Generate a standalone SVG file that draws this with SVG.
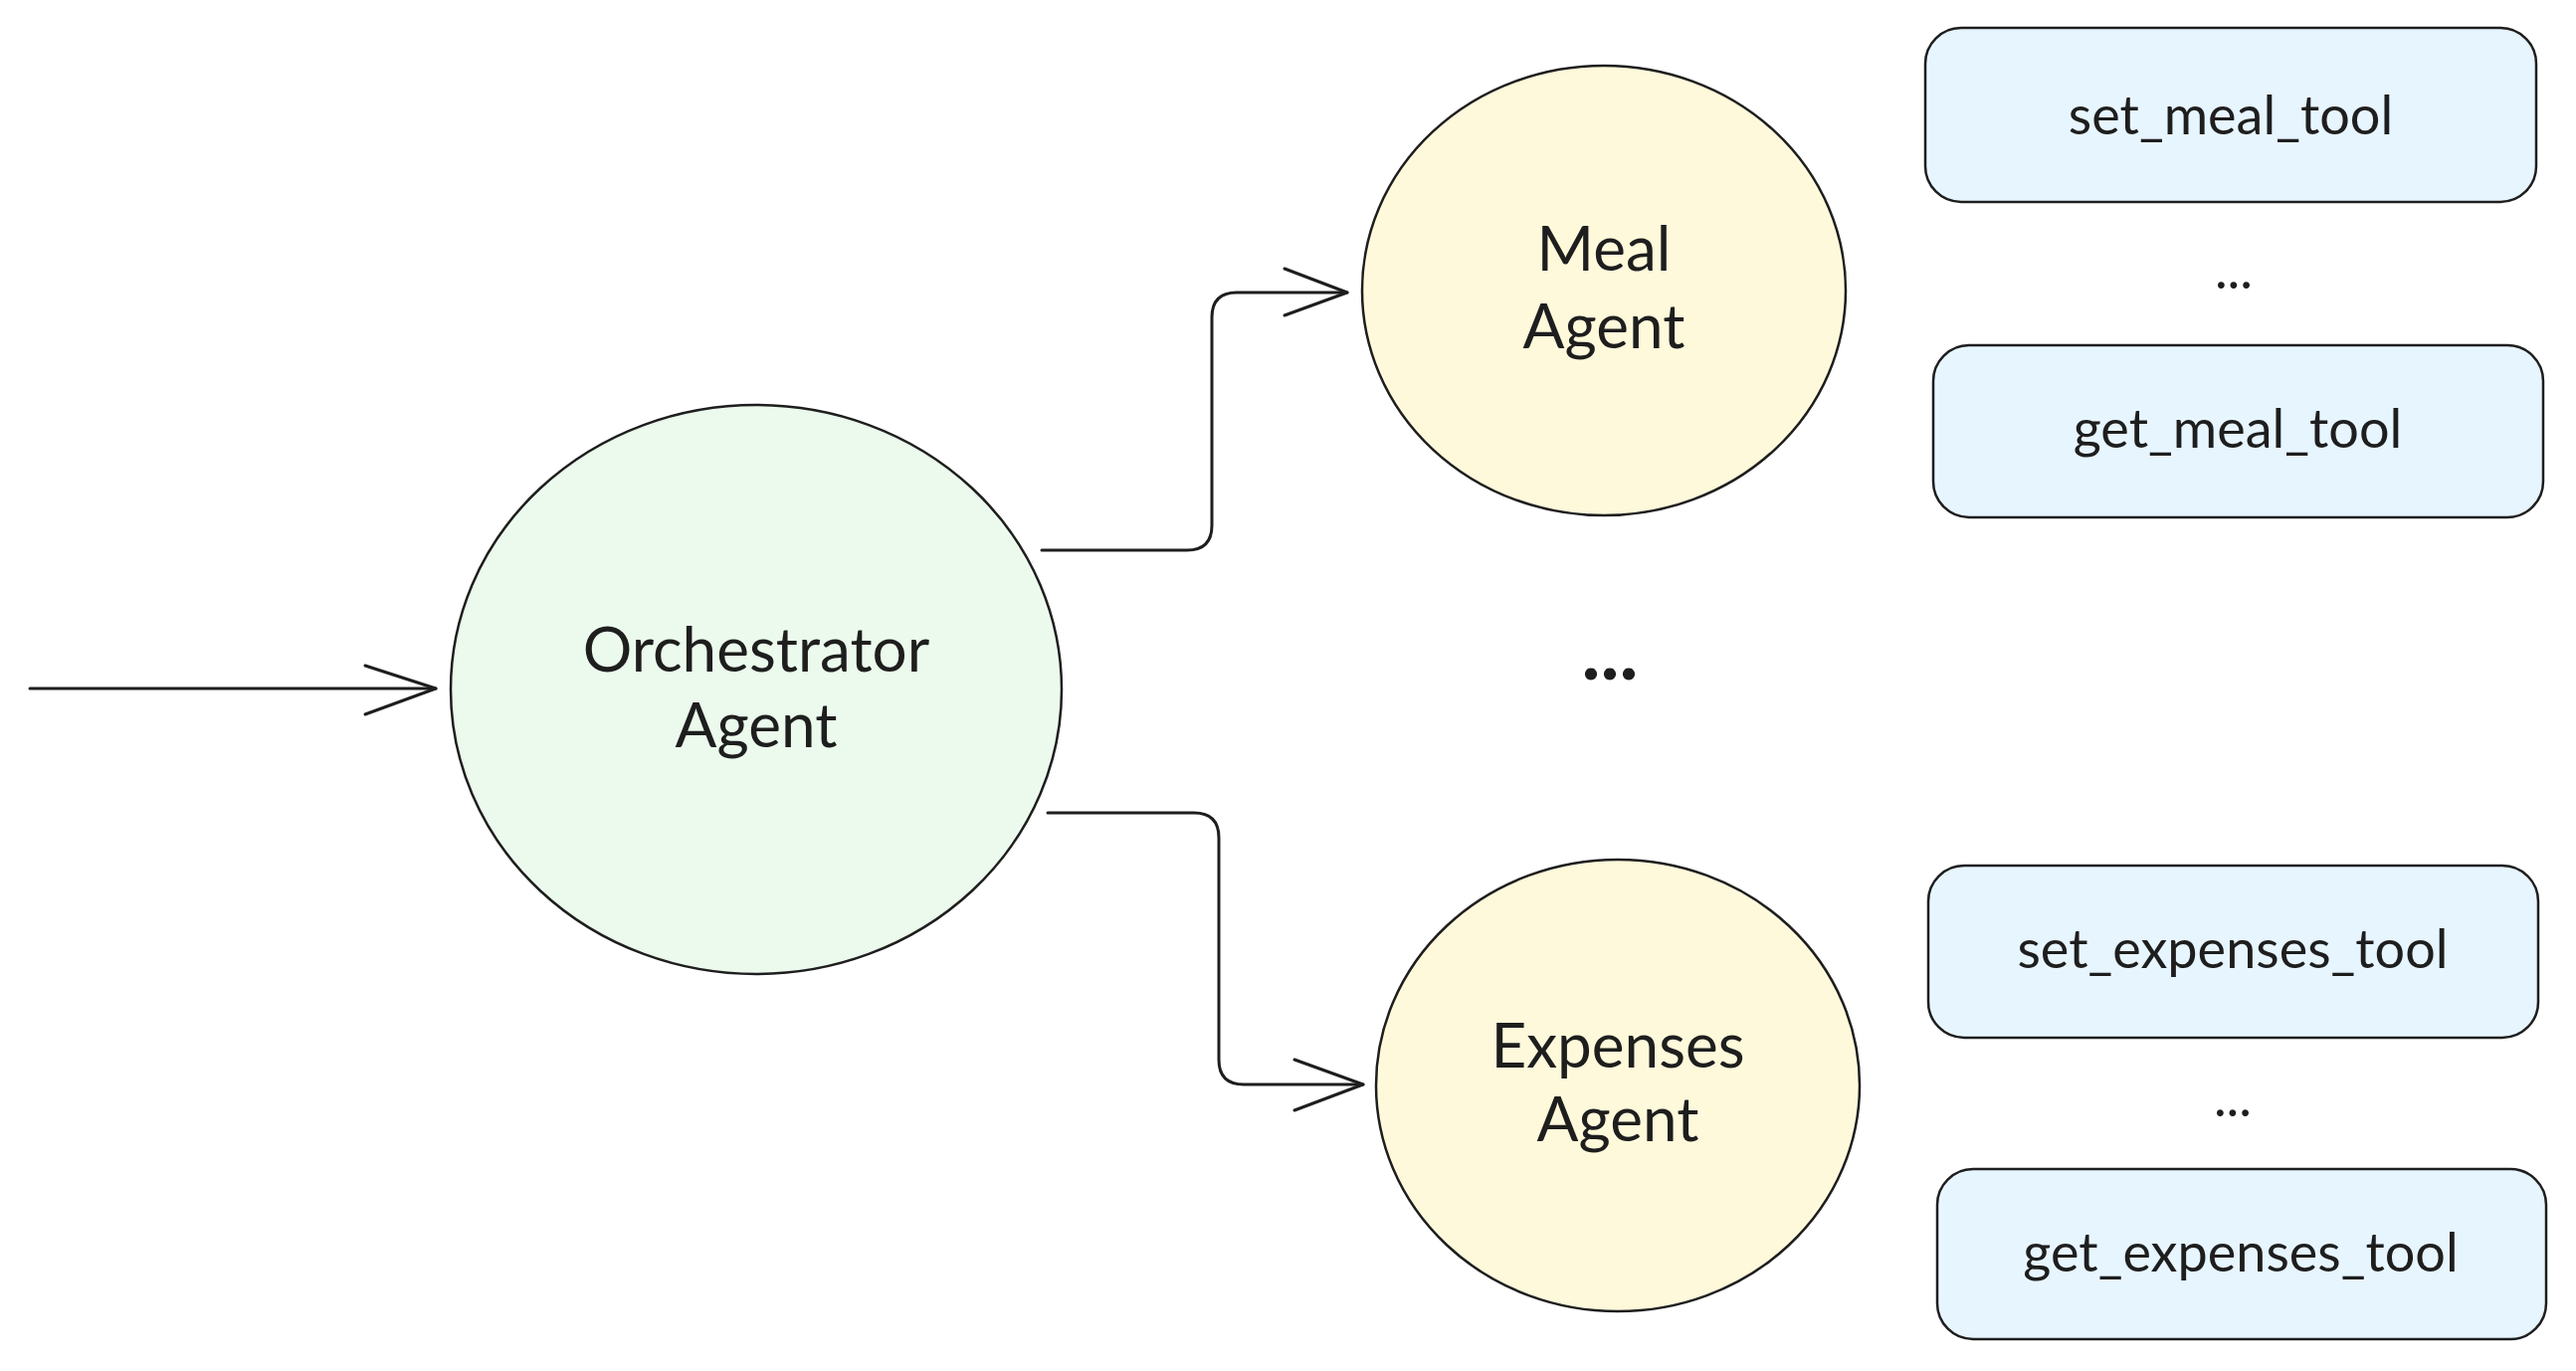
<svg xmlns="http://www.w3.org/2000/svg" width="2589" height="1378" viewBox="0 0 2589 1378">
<style>
.bg{fill:#ffffff}
.node{stroke:#1e1e1e;stroke-width:2.5}
.orch{fill:#ebfaec}
.agent{fill:#fff9db}
.tool{fill:#e7f5ff}
.conn{fill:none;stroke:#1e1e1e;stroke-width:3;stroke-linecap:round;stroke-linejoin:round}
text{font-family:"Lato","Liberation Sans",sans-serif;fill:#1e1e1e;text-anchor:middle}
.big{font-size:62px}
.sm{font-size:54px}
</style>
<rect class="bg" x="0" y="0" width="2589" height="1378"/>
<g id="connectors">
  <path class="conn" d="M30,692 H438"/>
  <path class="conn" d="M367,669 L438,692 L367,718"/>
  <path class="conn" d="M1047,553 H1193 Q1218,553 1218,528 V319 Q1218,294 1243,294 H1354"/>
  <path class="conn" d="M1291,270 L1354,294 L1291,317"/>
  <path class="conn" d="M1053,817 H1200 Q1225,817 1225,842 V1065 Q1225,1090 1250,1090 H1370"/>
  <path class="conn" d="M1301,1065 L1370,1090 L1301,1116"/>
</g>
<g id="orchestrator">
  <ellipse class="node orch" cx="760" cy="693" rx="307" ry="286"/>
  <text class="big" x="760" y="675">Orchestrator</text>
  <text class="big" x="760" y="751">Agent</text>
</g>
<g id="meal-agent">
  <ellipse class="node agent" cx="1612" cy="292" rx="243" ry="226"/>
  <text class="big" x="1612" y="272">Meal</text>
  <text class="big" x="1612" y="350">Agent</text>
</g>
<g id="expenses-agent">
  <ellipse class="node agent" cx="1626" cy="1091" rx="243" ry="227"/>
  <text class="big" x="1626" y="1073">Expenses</text>
  <text class="big" x="1626" y="1147">Agent</text>
</g>
<g id="agents-ellipsis">
  <text x="1618" y="683" style="font-size:80px;font-weight:bold">...</text>
</g>
<g id="set-meal-tool">
  <rect class="node tool" x="1935" y="28" width="614" height="175" rx="36"/>
  <text class="sm" x="2242" y="135">set_meal_tool</text>
</g>
<g id="meal-tools-ellipsis">
  <text class="sm" x="2245" y="290">...</text>
</g>
<g id="get-meal-tool">
  <rect class="node tool" x="1943" y="347" width="613" height="173" rx="36"/>
  <text class="sm" x="2249" y="450">get_meal_tool</text>
</g>
<g id="set-expenses-tool">
  <rect class="node tool" x="1938" y="870" width="613" height="173" rx="36"/>
  <text class="sm" x="2244" y="973">set_expenses_tool</text>
</g>
<g id="expenses-tools-ellipsis">
  <text class="sm" x="2244" y="1122">...</text>
</g>
<g id="get-expenses-tool">
  <rect class="node tool" x="1947" y="1175" width="612" height="171" rx="36"/>
  <text class="sm" x="2252" y="1278">get_expenses_tool</text>
</g>
</svg>
